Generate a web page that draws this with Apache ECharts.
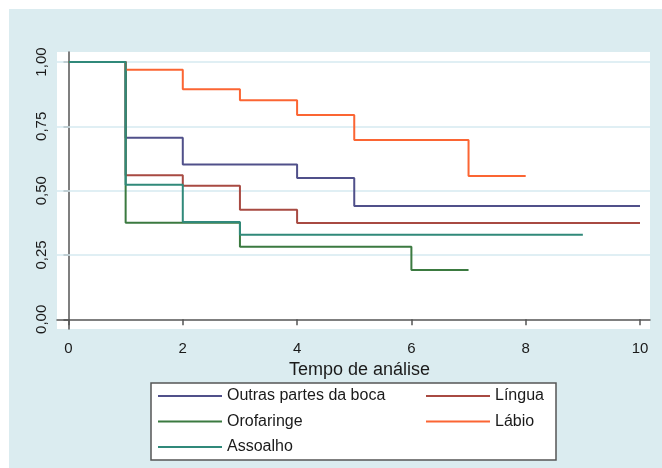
<!DOCTYPE html>
<html>
<head>
<meta charset="utf-8">
<script src="https://cdn.jsdelivr.net/npm/echarts@6/dist/echarts.min.js"></script>
<style>
html,body{margin:0;padding:0;background:#fff;}
#chart{width:662px;height:468px;background:#dbecf0;box-shadow:inset 9px 9px 0 0 #fff;}
</style>
</head>
<body>
<div id="chart"></div>
<script>
// Tick values and labels
const xTicks = [0, 2, 4, 6, 8, 10];
const yTicks = [0, 0.25, 0.5, 0.75, 1];
const yTickLabels = ['0,00', '0,25', '0,50', '0,75', '1,00'];
const yGridLines = [0.25, 0.5, 0.75, 1];
const xTitle = 'Tempo de análise';

// Series names
const seriesNames = ['Outras partes da boca', 'Língua', 'Orofaringe', 'Lábio', 'Assoalho'];

// Kaplan-Meier step data (time, survival)
const outrasT = [0, 1, 2, 4, 5, 10];
const outrasS = [1, 0.706, 0.602, 0.549, 0.440, 0.440];
const linguaT = [0, 1, 2, 3, 4, 10];
const linguaS = [1, 0.560, 0.519, 0.426, 0.374, 0.374];
const orofT = [0, 1, 3, 6, 7];
const orofS = [1, 0.375, 0.282, 0.192, 0.192];
const labioT = [0, 1, 2, 3, 4, 5, 7, 8];
const labioS = [1, 0.970, 0.894, 0.851, 0.794, 0.697, 0.557, 0.557];
const assoalhoT = [0, 1, 2, 3, 9];
const assoalhoS = [1, 0.523, 0.378, 0.329, 0.329];

const colors = ['#50508a', '#a84a42', '#3b7a40', '#fb6533', '#30897a'];
const allT = [outrasT, linguaT, orofT, labioT, assoalhoT];
const allS = [outrasS, linguaS, orofS, labioS, assoalhoS];

const FONT = '"Liberation Sans", Arial, sans-serif';
const LEGEND_ICON = 'path://M0,0 L64,0 L64,2 L0,2 Z';

const series = [{
  name: '__grid',
  type: 'line',
  data: [],
  z: 1,
  silent: true,
  markLine: {
    z: 1,
    silent: true,
    symbol: 'none',
    label: { show: false },
    animation: false,
    lineStyle: { color: '#d6eaf0', width: 1.5, type: 'solid' },
    data: yGridLines.map(v => ({ yAxis: v }))
  }
}].concat(seriesNames.map((name, i) => ({
  name: name,
  type: 'line',
  step: 'end',
  symbol: 'none',
  showSymbol: false,
  silent: true,
  animation: false,
  z: 3,
  color: colors[i],
  itemStyle: { color: colors[i] },
  lineStyle: { width: 2, color: colors[i] },
  data: allT[i].map((t, j) => [t, allS[i][j]])
})));

const legendCommon = {
  orient: 'vertical', top: 388, padding: 0,
  itemWidth: 64, itemHeight: 14, itemGap: 9.5,
  icon: LEGEND_ICON,
  selectedMode: false,
  textStyle: { fontSize: 16, color: '#1a1a1a', fontFamily: FONT }
};

const chart = echarts.init(document.getElementById('chart'), null, { renderer: 'canvas' });
chart.setOption({
  backgroundColor: 'transparent',
  animation: false,
  grid: {
    left: 57, right: 12, top: 52, bottom: 139,
    show: true, backgroundColor: '#ffffff', borderWidth: 0
  },
  xAxis: {
    type: 'value',
    min: -0.201, max: 10.175,
    name: xTitle,
    nameLocation: 'middle',
    nameGap: 31,
    nameTextStyle: { fontSize: 18, color: '#1a1a1a', fontFamily: FONT, padding: [0, 0, 0, 12] },
    axisLine: { show: true, lineStyle: { color: '#555', width: 1.5 } },
    axisTick: { show: true, length: 6, inside: false, customValues: xTicks, lineStyle: { color: '#555', width: 1.5 } },
    axisLabel: { customValues: xTicks, margin: 12, fontSize: 15, color: '#1a1a1a', fontFamily: FONT },
    splitLine: { show: false }
  },
  yAxis: {
    type: 'value',
    min: -0.0377, max: 1.039,
    axisLine: { show: true, lineStyle: { color: '#555', width: 1.5 } },
    axisTick: { show: true, length: 5, inside: false, customValues: yTicks, lineStyle: { color: '#555', width: 1.5 } },
    axisLabel: {
      customValues: yTicks,
      rotate: 90,
      margin: 8,
      fontSize: 15,
      color: '#1a1a1a',
      fontFamily: FONT,
      formatter: function (v) {
        const k = yTicks.findIndex(t => Math.abs(t - v) < 1e-6);
        return k >= 0 ? yTickLabels[k] : '';
      }
    },
    splitLine: { show: false }
  },
  legend: [
    Object.assign({}, legendCommon, { left: 158, data: [seriesNames[0], seriesNames[2], seriesNames[4]] }),
    Object.assign({}, legendCommon, { left: 426, data: [seriesNames[1], seriesNames[3]] })
  ],
  graphic: [
    {
      type: 'rect', z: -1, silent: true,
      shape: { x: 151, y: 383, width: 405, height: 77 },
      style: { fill: '#ffffff', stroke: '#555', lineWidth: 1.5 }
    }
  ],
  series: series
});
</script>
</body>
</html>
